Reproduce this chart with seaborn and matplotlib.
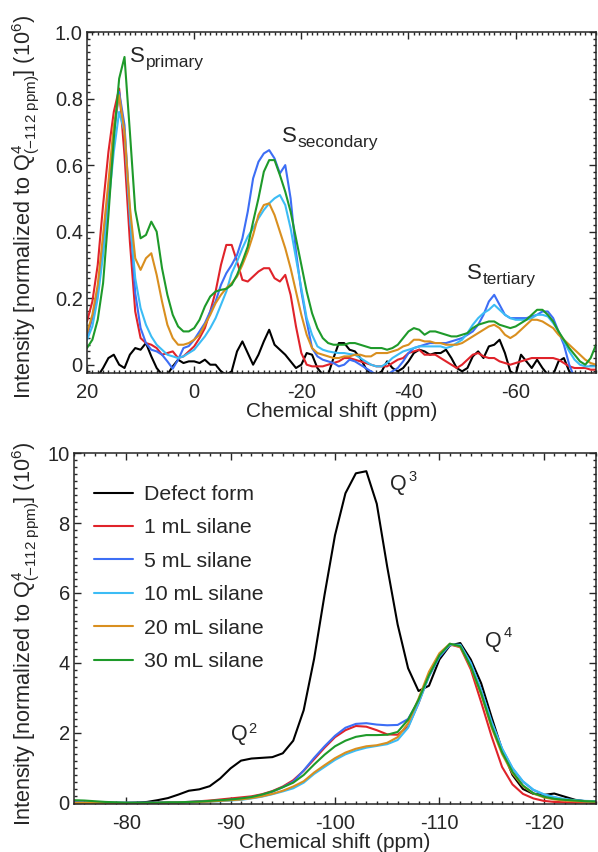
import numpy as np
import pandas as pd
import matplotlib
matplotlib.use("Agg")
import matplotlib.pyplot as plt
import seaborn as sns
from matplotlib.ticker import MultipleLocator

# ---------------- data: top panel (13C region, S species) ----------------
shift_top = list(range(20, -76, -1))  # ppm, 20 ... -75

defect_top = [
    -0.04, -0.04, -0.035, -0.01, 0.02, 0.03, 0.0, -0.01, 0.03, 0.05,
    0.045, 0.065, 0.025, -0.01, -0.03, -0.03, -0.005, 0.015, 0.005, 0.01,
    0.01, 0.005, 0.015, 0.0, 0.0, -0.02, -0.03, -0.02, 0.04, 0.07,
    0.035, 0.0, 0.03, 0.07, 0.105, 0.06, 0.045, 0.03, 0.01, -0.01,
    0.0, 0.035, 0.03, -0.01, -0.03, -0.03, 0.02, 0.065, 0.065, 0.045,
    0.04, 0.02, -0.01, -0.03, -0.03, -0.02, 0.01, -0.01, -0.02, -0.01,
    0.01, 0.035, 0.045, 0.04, 0.03, 0.035, 0.035, 0.045, 0.02, -0.01,
    -0.02, -0.01, 0.025, 0.04, 0.02, 0.055, 0.06, 0.075, 0.035, -0.02,
    -0.03, 0.03, 0.01, -0.01, 0.015, -0.01, -0.03, -0.03, 0.01, 0.02,
    -0.02, -0.04, -0.04, -0.04, -0.04, -0.04,
]
ml1_top = [
    0.13, 0.19, 0.30, 0.48, 0.64, 0.76, 0.83, 0.63, 0.37, 0.16,
    0.08, 0.065, 0.06, 0.05, 0.03, 0.035, 0.04, 0.02, 0.025, 0.04,
    0.055, 0.08, 0.11, 0.16, 0.22, 0.30, 0.36, 0.36, 0.31, 0.255,
    0.25, 0.265, 0.28, 0.29, 0.29, 0.26, 0.25, 0.27, 0.21, 0.115,
    0.035, 0.0, -0.005, -0.005, -0.005, 0.0, 0.005, 0.01, 0.02, 0.02,
    0.015, 0.01, 0.005, 0.0, -0.005, -0.005, -0.005, 0.005, 0.015, 0.02,
    0.035, 0.04, 0.045, 0.03, 0.03, 0.03, 0.02, 0.01, 0.0, -0.01,
    0.0, 0.015, 0.03, 0.035, 0.025, 0.02, 0.02, 0.01, 0.005, 0.0,
    0.005, 0.01, 0.015, 0.02, 0.02, 0.02, 0.02, 0.02, 0.015, 0.005,
    -0.005, -0.01, -0.01, -0.01, -0.015, -0.015,
]
ml5_top = [
    0.085, 0.14, 0.22, 0.36, 0.52, 0.69, 0.82, 0.72, 0.455, 0.215,
    0.11, 0.065, 0.045, 0.04, 0.03, 0.01, -0.012, 0.015, 0.05, 0.056,
    0.075, 0.10, 0.125, 0.16, 0.19, 0.24, 0.275, 0.30, 0.33, 0.38,
    0.46, 0.56, 0.61, 0.635, 0.645, 0.62, 0.575, 0.60, 0.50, 0.34,
    0.22, 0.13, 0.05, 0.025, 0.015, 0.01, 0.005, -0.005, 0.0, 0.015,
    0.01, 0.0, -0.01, -0.02, -0.03, -0.035, -0.03, -0.02, -0.01, 0.01,
    0.035, 0.05, 0.055, 0.06, 0.065, 0.065, 0.065, 0.065, 0.07, 0.075,
    0.08, 0.09, 0.10, 0.12, 0.15, 0.19, 0.21, 0.18, 0.15, 0.14,
    0.14, 0.14, 0.14, 0.145, 0.15, 0.16, 0.16, 0.14, 0.10, 0.06,
    0.0, -0.04, -0.06, -0.06, -0.06, -0.06,
]
ml10_top = [
    0.075, 0.115, 0.20, 0.33, 0.48, 0.64, 0.76, 0.70, 0.445, 0.26,
    0.17, 0.12, 0.085, 0.06, 0.045, 0.03, 0.025, 0.02, 0.025, 0.035,
    0.045, 0.065, 0.085, 0.11, 0.14, 0.18, 0.22, 0.275, 0.31, 0.35,
    0.385, 0.41, 0.44, 0.465, 0.485, 0.50, 0.51, 0.48, 0.41, 0.32,
    0.23, 0.14, 0.09, 0.055, 0.045, 0.04, 0.037, 0.035, 0.035, 0.032,
    0.03, 0.02, 0.01, 0.0, -0.005, -0.005, 0.005, 0.02, 0.03, 0.04,
    0.045, 0.05, 0.055, 0.055, 0.055, 0.055, 0.055, 0.05, 0.055, 0.065,
    0.075, 0.095, 0.12, 0.14, 0.155, 0.165, 0.18, 0.165, 0.15, 0.14,
    0.135, 0.135, 0.135, 0.14, 0.15, 0.15, 0.145, 0.125, 0.10, 0.07,
    0.04, 0.015, 0.0, -0.005, -0.005, -0.005,
]
ml20_top = [
    0.095, 0.15, 0.24, 0.39, 0.55, 0.72, 0.81, 0.70, 0.475, 0.32,
    0.285, 0.32, 0.335, 0.27, 0.19, 0.12, 0.08, 0.06, 0.06, 0.065,
    0.075, 0.09, 0.12, 0.15, 0.185, 0.21, 0.23, 0.245, 0.265, 0.30,
    0.34, 0.39, 0.45, 0.48, 0.485, 0.45, 0.40, 0.35, 0.29, 0.22,
    0.15, 0.09, 0.05, 0.035, 0.03, 0.025, 0.02, 0.02, 0.025, 0.025,
    0.03, 0.03, 0.025, 0.025, 0.035, 0.035, 0.035, 0.04, 0.045, 0.055,
    0.06, 0.075, 0.075, 0.07, 0.07, 0.065, 0.065, 0.06, 0.06, 0.06,
    0.065, 0.075, 0.085, 0.095, 0.105, 0.115, 0.12, 0.11, 0.09, 0.08,
    0.09, 0.105, 0.12, 0.135, 0.135, 0.13, 0.12, 0.11, 0.09, 0.075,
    0.06, 0.045, 0.03, 0.015, 0.005, 0.0,
]
ml30_top = [
    0.05, 0.075, 0.135, 0.245, 0.45, 0.68, 0.86, 0.925, 0.70, 0.465,
    0.38, 0.39, 0.43, 0.40, 0.29, 0.21, 0.15, 0.115, 0.10, 0.10,
    0.11, 0.135, 0.175, 0.205, 0.22, 0.225, 0.228, 0.24, 0.27, 0.31,
    0.355, 0.43, 0.50, 0.58, 0.615, 0.615, 0.57, 0.52, 0.46, 0.38,
    0.30, 0.22, 0.155, 0.11, 0.08, 0.065, 0.06, 0.06, 0.06, 0.065,
    0.065, 0.06, 0.055, 0.05, 0.05, 0.05, 0.045, 0.05, 0.06, 0.08,
    0.10, 0.11, 0.105, 0.09, 0.10, 0.10, 0.095, 0.09, 0.085, 0.085,
    0.09, 0.095, 0.11, 0.12, 0.125, 0.13, 0.13, 0.12, 0.115, 0.11,
    0.115, 0.125, 0.135, 0.15, 0.165, 0.165, 0.15, 0.13, 0.10, 0.075,
    0.05, 0.03, 0.01, 0.0, 0.02, 0.06,
]

# ---------------- data: bottom panel (29Si region, Q species) ----------------
shift_bot = list(range(-75, -126, -1))  # ppm, -75 ... -125

defect_bot = [
    0.0, 0.0, 0.0, 0.0, 0.0, 0.0, 0.01, 0.03, 0.08, 0.14,
    0.24, 0.35, 0.39, 0.48, 0.70, 0.99, 1.21, 1.27, 1.29, 1.31,
    1.42, 1.78, 2.65, 4.12, 5.95, 7.65, 8.85, 9.42, 9.48, 8.55,
    6.75, 5.10, 3.85, 3.20, 3.35, 4.10, 4.50, 4.57, 4.10, 3.42,
    2.45, 1.52, 0.80, 0.40, 0.26, 0.23, 0.27, 0.18, 0.09, 0.05,
    0.03,
]
ml1_bot = [
    0.02, 0.01, 0.01, 0.0, 0.0, 0.0, 0.0, 0.0, 0.01, 0.01,
    0.02, 0.03, 0.05, 0.07, 0.10, 0.13, 0.16, 0.19, 0.25, 0.34,
    0.47, 0.65, 0.92, 1.25, 1.58, 1.88, 2.08, 2.20, 2.18, 2.08,
    1.96, 1.95, 2.18, 2.85, 3.65, 4.22, 4.53, 4.45, 3.82, 2.88,
    1.90, 1.03, 0.53, 0.26, 0.13, 0.06, 0.03, 0.02, 0.01, 0.01,
    0.01,
]
ml5_bot = [
    0.02, 0.01, 0.01, 0.01, 0.01, 0.01, 0.01, 0.01, 0.01, 0.02,
    0.02, 0.03, 0.04, 0.05, 0.07, 0.09, 0.12, 0.16, 0.23, 0.32,
    0.45, 0.61, 0.93, 1.29, 1.62, 1.92, 2.15, 2.26, 2.28, 2.24,
    2.22, 2.23, 2.40, 2.92, 3.62, 4.17, 4.52, 4.50, 4.00, 3.23,
    2.30, 1.55, 0.99, 0.61, 0.37, 0.24, 0.16, 0.10, 0.07, 0.05,
    0.04,
]
ml10_bot = [
    -0.02, -0.02, -0.01, 0.0, 0.0, 0.0, 0.0, 0.0, 0.0, 0.01,
    0.01, 0.02, 0.03, 0.04, 0.05, 0.07, 0.09, 0.13, 0.18, 0.25,
    0.33, 0.42, 0.58, 0.83, 1.03, 1.23, 1.39, 1.50, 1.58, 1.63,
    1.68, 1.80, 2.15, 2.85, 3.62, 4.20, 4.53, 4.52, 4.00, 3.22,
    2.32, 1.56, 1.00, 0.62, 0.38, 0.25, 0.17, 0.11, 0.08, 0.06,
    0.05,
]
ml20_bot = [
    0.0, 0.0, 0.0, 0.0, 0.0, 0.0, 0.0, 0.0, 0.0, 0.01,
    0.01, 0.02, 0.03, 0.04, 0.06, 0.08, 0.10, 0.14, 0.19, 0.26,
    0.35, 0.47, 0.62, 0.87, 1.08, 1.28, 1.44, 1.55, 1.62, 1.65,
    1.72, 1.88, 2.28, 2.98, 3.75, 4.28, 4.55, 4.46, 3.88, 3.10,
    2.15, 1.40, 0.85, 0.48, 0.27, 0.16, 0.10, 0.07, 0.05, 0.04,
    0.03,
]
ml30_bot = [
    0.08, 0.07, 0.05, 0.03, 0.02, 0.01, 0.01, 0.01, 0.01, 0.02,
    0.02, 0.03, 0.04, 0.06, 0.08, 0.10, 0.13, 0.17, 0.24, 0.33,
    0.45, 0.58, 0.80, 1.10, 1.38, 1.62, 1.78, 1.89, 1.94, 1.94,
    1.95, 2.03, 2.38, 2.95, 3.65, 4.22, 4.55, 4.48, 3.90, 3.13,
    2.20, 1.45, 0.89, 0.50, 0.28, 0.18, 0.12, 0.09, 0.07, 0.05,
    0.04,
]

labels = ["Defect form", "1 mL silane", "5 mL silane",
          "10 mL silane", "20 mL silane", "30 mL silane"]
colors = ["#000000", "#e0232a", "#3d6ef5", "#3cbcf5", "#d98f1f", "#1e9a2a"]

top_series = [defect_top, ml1_top, ml5_top, ml10_top, ml20_top, ml30_top]
bot_series = [defect_bot, ml1_bot, ml5_bot, ml10_bot, ml20_bot, ml30_bot]

df_top = pd.concat([pd.DataFrame({"shift": shift_top, "intensity": s, "sample": lab})
                    for s, lab in zip(top_series, labels)], ignore_index=True)
df_bot = pd.concat([pd.DataFrame({"shift": shift_bot, "intensity": s, "sample": lab})
                    for s, lab in zip(bot_series, labels)], ignore_index=True)

# ---------------- style ----------------
sns.set_style("ticks")
plt.rcParams["font.family"] = ["Liberation Sans", "DejaVu Sans"]
plt.rcParams["mathtext.fontset"] = "custom"
plt.rcParams["mathtext.rm"] = "Liberation Sans"
plt.rcParams["mathtext.it"] = "Liberation Sans:italic"
plt.rcParams["mathtext.bf"] = "Liberation Sans:bold"
plt.rcParams["axes.unicode_minus"] = False
plt.rcParams["axes.linewidth"] = 1.1

fig = plt.figure(figsize=(5.98, 8.52), dpi=100)
ax1 = fig.add_axes([0.1455, 0.5622, 0.8512, 0.4002])
ax2 = fig.add_axes([0.1237, 0.0563, 0.8730, 0.4120])

palette = dict(zip(labels, colors))
sns.lineplot(data=df_top, x="shift", y="intensity", hue="sample", hue_order=labels,
             palette=palette, estimator=None, sort=False, lw=1.5, ax=ax1, legend=False)
sns.lineplot(data=df_bot, x="shift", y="intensity", hue="sample", hue_order=labels,
             palette=palette, estimator=None, sort=False, lw=1.5, ax=ax2)

ylab = r"Intensity [normalized to Q$^{4}_{\mathrm{(-112\ ppm)}}$] (10$^{6}$)"


def label_sub(ax, x, y, main, sub, size=16, sub_size=12.5, dy=0.0):
    # main letter plus a subscript placed right after it
    t = ax.text(x, y, main, fontsize=size, va="baseline")
    ax.annotate(sub, xy=(1, 0), xycoords=t, xytext=(0.5, dy),
                textcoords="offset points", fontsize=sub_size, va="baseline")


def label_sup(ax, x, y, main, sup, size=15.5, sup_size=10.5, dy=9.5):
    # main letter plus a superscript placed right after it
    t = ax.text(x, y, main, fontsize=size, va="baseline")
    ax.annotate(sup, xy=(1, 0), xycoords=t, xytext=(1.0, dy),
                textcoords="offset points", fontsize=sup_size, va="baseline")


# top axis
ax1.set_xlim(20, -75)
ax1.set_ylim(-0.025, 1.0)
ax1.xaxis.set_major_locator(MultipleLocator(20))
ax1.xaxis.set_minor_locator(MultipleLocator(1))
ax1.yaxis.set_minor_locator(MultipleLocator(0.02))
ax1.set_yticks([0, 0.2, 0.4, 0.6, 0.8, 1.0])
ax1.set_yticklabels(["0", "0.2", "0.4", "0.6", "0.8", "1.0"])
ax1.set_xlabel("Chemical shift (ppm)", fontsize=15, labelpad=0)
ax1.set_ylabel(ylab, fontsize=15.6)
ax1.yaxis.set_label_coords(-0.088, 0.488)
label_sub(ax1, 11.9, 0.91, "S", "primary")
label_sub(ax1, -16.3, 0.668, "S", "secondary")
label_sub(ax1, -50.9, 0.257, "S", "tertiary")

# bottom axis
ax2.set_xlim(-75, -125)
ax2.set_ylim(-0.03, 10)
ax2.xaxis.set_major_locator(MultipleLocator(10))
ax2.xaxis.set_minor_locator(MultipleLocator(1))
ax2.yaxis.set_major_locator(MultipleLocator(2))
ax2.yaxis.set_minor_locator(MultipleLocator(0.2))
ax2.set_xlabel("Chemical shift (ppm)", fontsize=15, labelpad=0)
ax2.set_ylabel(ylab, fontsize=15.6)
ax2.yaxis.set_label_coords(-0.061, 0.484)
label_sup(ax2, -90.0, 1.8, "Q", "2", dy=8.5)
label_sup(ax2, -105.3, 8.94, "Q", "3", dy=10.5)
label_sup(ax2, -114.4, 4.46, "Q", "4", dy=10.5)

for ax in (ax1, ax2):
    ax.tick_params(which="both", direction="in", top=True, right=True, labelsize=14.5,
                   width=1.0)
    ax.tick_params(which="major", length=5)
    ax.tick_params(which="minor", length=2.5)
    ax.tick_params(axis="x", which="major", pad=7)
    ax.tick_params(axis="y", which="major", pad=3)

leg = ax2.legend(loc="upper left", bbox_to_anchor=(0.038, 0.909), frameon=False,
                 fontsize=15.3, handlelength=1.84, handletextpad=0.52,
                 labelspacing=0.68, borderaxespad=0, borderpad=0)
for line in leg.get_lines():
    line.set_linewidth(1.5)

fig.savefig("out.png", dpi=100)
